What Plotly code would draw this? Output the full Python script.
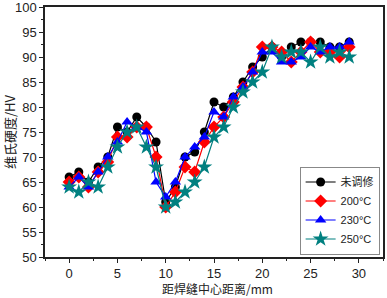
import plotly.graph_objects as go

x = list(range(30))
names = ["未调修", "200°C", "230°C", "250°C"]
black = [66, 67, 65, 68, 70, 76, 75, 78, 76, 73, 61, 64, 70, 71, 75, 81, 80, 82, 85, 88, 90, 92, 90, 92, 93, 93, 93, 92, 92, 93]
red = [65, 66, 64, 67, 69, 74, 74, 76, 76, 70, 60, 63, 68, 67, 73, 76, 78, 81, 84, 87, 92, 92, 91, 89, 91, 93, 91, 91, 90, 92]
blue = [64, 66, 64, 67, 70, 73, 77, 76, 75, 65, 62, 65, 70, 72, 74, 79, 78, 82, 84, 87, 91, 91, 89, 89, 90, 92, 91, 92, 92, 93]
teal = [64, 63, 65, 64, 68, 72, 75, 76, 72, 68, 60, 61, 63, 65, 68, 74, 76, 80, 83, 85, 87, 92, 90, 91, 91, 89, 92, 90, 91, 90]

series = [black, red, blue, teal]
colors = ["#000000", "#ff0000", "#0000ff", "#008080"]
symbols = ["circle", "diamond", "triangle-up", "star"]
sizes = [9, 10, 10, 12]

FONT = "Liberation Sans, Arial, Noto Sans CJK SC"
CJK = "Noto Sans CJK SC"

fig = go.Figure()
for ys, nm, c, s, sz in zip(series, names, colors, symbols, sizes):
    fig.add_trace(go.Scatter(
        x=x, y=ys, name=nm, mode="lines+markers",
        line=dict(color=c, width=1.2),
        marker=dict(symbol=s, size=sz, color=c, line=dict(width=0)),
    ))

axis_common = dict(
    showline=True, linecolor="#222222", linewidth=1.5, mirror=True,
    ticks="outside", ticklen=4, tickwidth=1, tickcolor="#222222",
    showgrid=False, zeroline=False, ticklabeloverflow="allow",
    tickfont=dict(family=FONT, size=13, color="#222222"),
    minor=dict(ticks="outside", ticklen=2.5, tickwidth=1, tickcolor="#222222"),
)

fig.update_xaxes(range=[-2.5, 32.5], dtick=5, tick0=0, **axis_common)
fig.update_xaxes(minor=dict(dtick=2.5, tick0=0))
fig.update_yaxes(range=[50, 100], dtick=5, tick0=50, **axis_common)
fig.update_yaxes(minor=dict(dtick=2.5, tick0=50))

fig.add_annotation(text="距焊缝中心距离/mm", xref="paper", yref="paper",
                   x=0.51, y=0, yshift=-21, xanchor="center", yanchor="top",
                   showarrow=False, font=dict(family=CJK, size=12, color="#222222"))
fig.add_annotation(text="维氏硬度/HV", xref="paper", yref="paper",
                   x=0, xshift=-36, y=0.5, xanchor="center", yanchor="middle",
                   textangle=-90, showarrow=False,
                   font=dict(family=CJK, size=13, color="#222222"))

fig.update_layout(
    width=387, height=298,
    margin=dict(l=45, r=4, t=7, b=41, autoexpand=False),
    paper_bgcolor="white", plot_bgcolor="white",
    legend=dict(x=0.99, y=0.01, xanchor="right", yanchor="bottom",
                bordercolor="#888888", borderwidth=1, bgcolor="white",
                font=dict(family=FONT, size=11, color="#222222"),
                itemwidth=30, tracegroupgap=0),
    showlegend=True,
)

fig.write_html("out.html", config={"displayModeBar": False},
               post_script="document.body.style.margin='0';document.body.style.padding='0';")
